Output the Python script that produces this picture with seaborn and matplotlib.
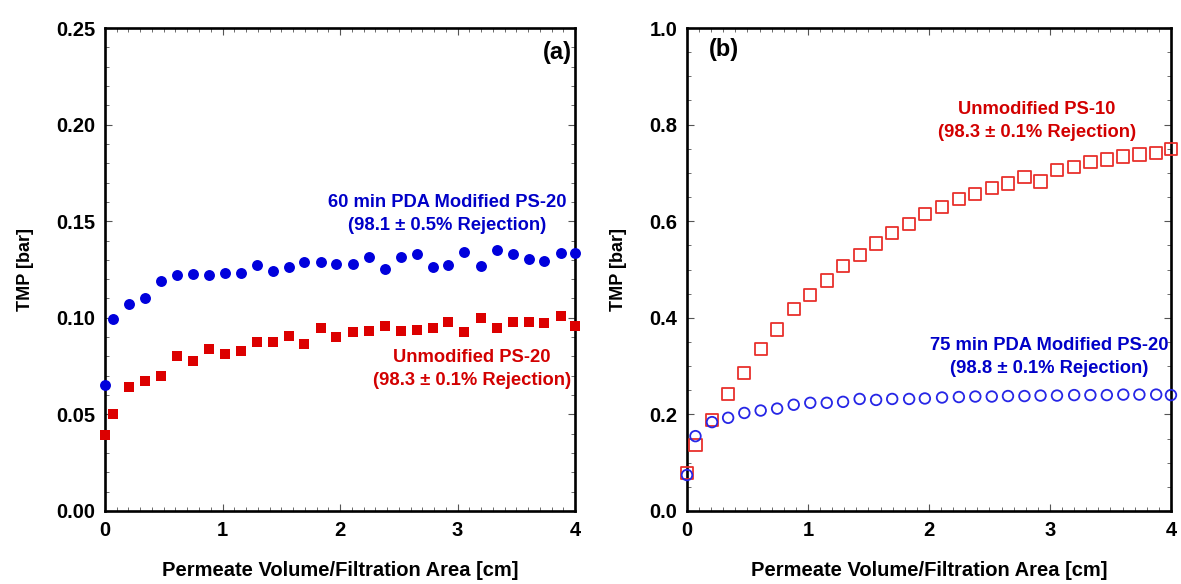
import numpy as np
import pandas as pd
import matplotlib
matplotlib.use("Agg")
import matplotlib.pyplot as plt
from matplotlib.ticker import MultipleLocator, FormatStrFormatter
import seaborn as sns

# permeate volume / filtration area [cm] (same sampling in both panels)
PV = [0.0, 0.07, 0.207, 0.34, 0.474, 0.609, 0.745, 0.882, 1.019, 1.155,
      1.29, 1.427, 1.563, 1.696, 1.836, 1.966, 2.108, 2.247, 2.383, 2.519,
      2.653, 2.789, 2.922, 3.058, 3.2, 3.334, 3.47, 3.606, 3.739, 3.878, 4.0]

# panel (a) TMP [bar]
TMP_A_UNMOD = [0.0393, 0.0502, 0.0643, 0.0673, 0.0699, 0.0802, 0.0776, 0.0838, 0.0811, 0.0830,
               0.0876, 0.0873, 0.0904, 0.0864, 0.0945, 0.0902, 0.0925, 0.0933, 0.0958, 0.0933,
               0.0937, 0.0949, 0.0980, 0.0925, 0.0997, 0.0949, 0.0980, 0.0977, 0.0971, 0.1009, 0.0958]
TMP_A_PDA60 = [0.0652, 0.0994, 0.1070, 0.1100, 0.1190, 0.1220, 0.1225, 0.1222, 0.1230, 0.1230,
               0.1273, 0.1242, 0.1261, 0.1290, 0.1287, 0.1278, 0.1278, 0.1316, 0.1253, 0.1316,
               0.1332, 0.1261, 0.1273, 0.1342, 0.1270, 0.1350, 0.1330, 0.1303, 0.1296, 0.1334, 0.1337]

# panel (b) TMP [bar]
TMP_B_UNMOD = [0.079, 0.136, 0.188, 0.242, 0.286, 0.335, 0.376, 0.418, 0.447, 0.477,
               0.507, 0.530, 0.554, 0.575, 0.594, 0.615, 0.630, 0.646, 0.656, 0.669,
               0.678, 0.691, 0.682, 0.706, 0.712, 0.723, 0.728, 0.734, 0.738, 0.742, 0.749]
TMP_B_PDA75 = [0.0745, 0.155, 0.184, 0.193, 0.203, 0.208, 0.212, 0.220, 0.224, 0.224,
               0.226, 0.232, 0.230, 0.232, 0.232, 0.233, 0.235, 0.236, 0.237, 0.237,
               0.238, 0.238, 0.239, 0.239, 0.240, 0.240, 0.240, 0.241, 0.241, 0.241, 0.240]

RED = "#dc0000"
BLUE = "#0000dc"
RED_OPEN = "#e8302c"
BLUE_OPEN = "#2626e6"

sns.set_style("ticks")
plt.rcParams["font.family"] = ["Liberation Sans", "DejaVu Sans"]
plt.rcParams["font.weight"] = "bold"
plt.rcParams["text.color"] = "black"
plt.rcParams["axes.labelcolor"] = "black"
plt.rcParams["xtick.labelcolor"] = "black"
plt.rcParams["ytick.labelcolor"] = "black"

fig = plt.figure(figsize=(11.81, 5.84), dpi=100)
ax_a = fig.add_axes([0.0889, 0.125, 0.398, 0.827])
ax_b = fig.add_axes([0.5817, 0.125, 0.4098, 0.827])

df_a = pd.DataFrame({"pv": PV, "unmod": TMP_A_UNMOD, "pda": TMP_A_PDA60})
df_b = pd.DataFrame({"pv": PV, "unmod": TMP_B_UNMOD, "pda": TMP_B_PDA75})

sns.scatterplot(data=df_a, x="pv", y="unmod", marker="s", s=58, color=RED,
                edgecolor=RED, linewidth=0, ax=ax_a, clip_on=False, zorder=3)
sns.scatterplot(data=df_a, x="pv", y="pda", marker="o", s=62, color=BLUE,
                edgecolor=BLUE, linewidth=0, ax=ax_a, clip_on=False, zorder=3)

sns.scatterplot(data=df_b, x="pv", y="unmod", marker="s", s=78, facecolor="none",
                edgecolor=RED_OPEN, linewidth=1.3, ax=ax_b, clip_on=False, zorder=3)
sns.scatterplot(data=df_b, x="pv", y="pda", marker="o", s=58, facecolor="none",
                edgecolor=BLUE_OPEN, linewidth=1.3, ax=ax_b, clip_on=False, zorder=4)


def style_axis(ax, ymax, ymajor, yminor, yfmt):
    ax.set_xlim(0, 4)
    ax.set_ylim(0, ymax)
    ax.xaxis.set_major_locator(MultipleLocator(1))
    ax.xaxis.set_minor_locator(MultipleLocator(0.1))
    ax.yaxis.set_major_locator(MultipleLocator(ymajor))
    ax.yaxis.set_minor_locator(MultipleLocator(yminor))
    ax.yaxis.set_major_formatter(FormatStrFormatter(yfmt))
    for sp in ax.spines.values():
        sp.set_visible(True)
        sp.set_linewidth(1.9)
        sp.set_color("black")
    ax.tick_params(which="both", direction="in", top=True, right=True,
                   labelsize=14.5, pad=7, color="#555555", labelcolor="black")
    ax.tick_params(which="major", length=5, width=0.8)
    ax.tick_params(which="minor", length=3, width=0.6)
    for lab in ax.get_xticklabels() + ax.get_yticklabels():
        lab.set_fontweight("bold")
    ax.set_xlabel("Permeate Volume/Filtration Area [cm]", fontsize=14.5,
                  fontweight="bold", labelpad=15, color="black")
    ax.set_ylabel("TMP [bar]", fontsize=13, fontweight="bold", labelpad=16, color="black")


style_axis(ax_a, 0.25, 0.05, 0.01, "%.2f")
style_axis(ax_b, 1.0, 0.2, 0.05, "%.1f")

ax_a.text(3.97, 0.2375, "(a)", ha="right", va="center", fontsize=17, fontweight="bold")
ax_b.text(0.18, 0.955, "(b)", ha="left", va="center", fontsize=17, fontweight="bold")

ax_a.text(2.91, 0.1537, "60 min PDA Modified PS-20\n(98.1 \u00b1 0.5% Rejection)",
          ha="center", va="center", color="#0000c8", fontsize=13.2,
          fontweight="bold", linespacing=1.45)
ax_a.text(3.12, 0.0735, "Unmodified PS-20\n(98.3 \u00b1 0.1% Rejection)",
          ha="center", va="center", color="#d20000", fontsize=13.2,
          fontweight="bold", linespacing=1.45)
ax_b.text(2.89, 0.807, "Unmodified PS-10\n(98.3 \u00b1 0.1% Rejection)",
          ha="center", va="center", color="#d20000", fontsize=13.2,
          fontweight="bold", linespacing=1.45)
ax_b.text(2.99, 0.319, "75 min PDA Modified PS-20\n(98.8 \u00b1 0.1% Rejection)",
          ha="center", va="center", color="#0000c8", fontsize=13.2,
          fontweight="bold", linespacing=1.45)

fig.savefig("out.png", dpi=100)
